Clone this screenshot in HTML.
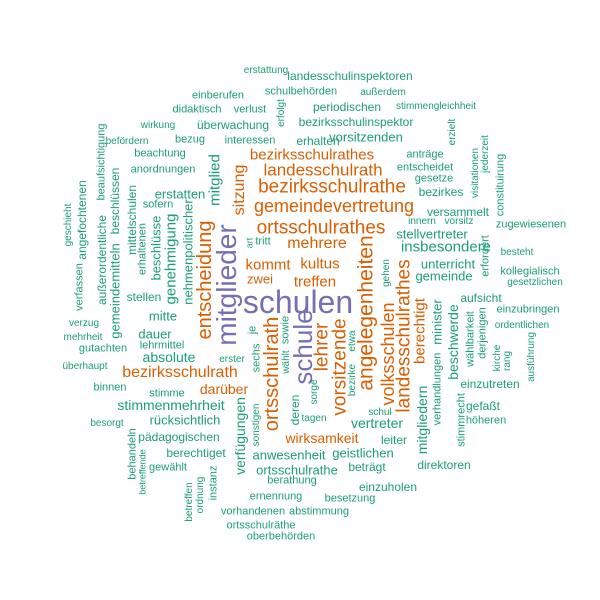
<!DOCTYPE html>
<html><head><meta charset="utf-8">
<style>
html,body{margin:0;padding:0;background:#fff;}
#cloud{position:relative;width:600px;height:600px;overflow:hidden;font-family:"Liberation Sans",sans-serif;}
#cloud span{position:absolute;white-space:nowrap;line-height:1;}
</style></head>
<body>
<div id="cloud"></div>
<script>
const words = ["erstattung","landesschulinspektoren","schulbehörden","außerdem","einberufen","didaktisch","verlust","periodischen","stimmengleichheit","wirkung","überwachung","bezirksschulinspektor","befördern","bezug","interessen","erhalten","vorsitzenden","beachtung","anordnungen","anträge","entscheidet","gesetze","bezirkes","erstatten","sofern","versammelt","innern","vorsitz","zugewiesenen","stellvertreter","insbesondere","besteht","unterricht","gemeinde","kollegialisch","gesetzlichen","aufsicht","einzubringen","ordentlichen","einzutreten","gefaßt","höheren","vertreter","leiter","geistlichen","schul","tagen","direktoren","beträgt","einzuholen","besetzung","abstimmung","ernennung","vorhandenen","ortsschulräthe","oberbehörden","anwesenheit","ortsschulrathe","berathung","berechtiget","pädagogischen","gewählt","rücksichtlich","stimmenmehrheit","stimme","binnen","besorgt","überhaupt","verzug","mehrheit","gutachten","dauer","lehrmittel","absolute","erster","mitte","stellen","bezirksschulrath","darüber","wirksamkeit","bezirksschulrathes","landesschulrath","bezirksschulrathe","gemeindevertretung","ortsschulrathes","mehrere","kommt","kultus","zwei","treffen","schulen","tritt",
"mitglieder","schule","entscheidung","ortsschulrath","lehrer","vorsitzende","angelegenheiten","volksschulen","landesschulrathes","berechtigt","sitzung","mitglied","nehmenpolitischer","genehmigung","beschlüsse","erhaltenen","mittelschulen","beschlüssen","beaufsichtigung","außerordentliche","gemeindemitteln","angefochtenen","verfassen","geschieht","art","je","sechs","sowie","wählt","sonstigen","verfügungen","deren","sorge","bezirke","etwa","gehen","mitgliedern","verhandlungen","minister","beschwerde","stimmrecht","wählbarkeit","derjenigen","kirche","rang","ausführung","erfordert","visitationen","jederzeit","constituirung","erzielt","erfolgt","behandeln","betreffende","betreffen","ordnung","instanz"];
const freq = [10,12,11,10,11,11,11,12,10,10,12,12,10,11,11,12,13,11,11,11,11,11,12,13,11,12,10,10,11,13,15,10,13,13,11,10,12,11,10,12,12,11,14,12,13,10,10,12,12,12,11,11,11,11,11,11,13,13,11,12,12,11,13,14,11,11,10,10,10,10,11,13,11,14,10,13,12,16,14,14,15,17,19,18,19,16,15,15,13,15,32,11,
28,26,20,20,19,19,21,18,19,15,16,15,13,15,13,11,12,12,11,12,13,12,11,10,9,11,11,11,10,10,14,12,10,10,10,10,14,11,13,14,11,11,11,10,10,10,11,10,10,11,10,10,11,9,10,10,11];
const cx = [266,350,301,383,218,197,250,347,436,158,233,356,127,190,250,318,366,160,163,425,425,434,441,180,158,458,422,459,531,432,446,517,448,444,530,535,481,528,522,490,483,486,377,394,363,380,314,444,367,388,350,319,276,253,261,281,289,297,292,196,179,168,185,171,167,110,107,85,84,83,103,155,162,169,232,163,144,180,224,322,312,323,332,334,321,317,268,320,260,315,298,263,
227,303,205,272,322,340,366,388,404,420,240,215,188,171,156,143,132,115,102,102,115,82,80,69,250,253,257,286,287,257,240,295,315,353,353,387,422,438,437,453,462,471,483,498,508,532,486,476,486,501,453,282,133,143,190,201,214];
const cy = [71,76,92,93,96,110,110,107,107,126,125,122,142,140,141,141,137,154,170,155,168,179,192,194,205,212,222,222,225,234,247,253,264,276,272,283,298,310,326,384,406,421,423,440,453,413,419,465,467,487,499,512,497,512,526,537,455,470,481,453,437,468,420,405,394,388,424,367,324,338,349,334,346,357,360,316,297,373,389,438,155,170,187,206,228,244,265,264,279,282,302,242,
285,347,280,374,347,367,313,354,336,331,190,180,252,259,248,249,220,201,162,260,291,220,287,225,243,330,358,330,362,425,436,410,392,380,341,273,420,389,322,342,420,339,333,358,361,357,256,173,154,185,132,113,454,472,502,495,483];
const orangeWords = ["bezirksschulrath","darüber","wirksamkeit","bezirksschulrathes","landesschulrath","bezirksschulrathe","gemeindevertretung","ortsschulrathes","mehrere","kommt","kultus","zwei","treffen","entscheidung","ortsschulrath","lehrer","vorsitzende","angelegenheiten","volksschulen","landesschulrathes","berechtigt","sitzung"];
const purpleWords = ["schulen","mitglieder","schule"];
const rotated = 92;
const cloud = document.getElementById('cloud');
for (let i = 0; i < words.length; i++) {
  const s = document.createElement('span');
  s.textContent = words[i];
  
  
  s.style.fontSize = freq[i] + 'px';
  let col = "#1b9e77";
  if (orangeWords.includes(words[i])) col = "#d95f02";
  if (purpleWords.includes(words[i])) col = "#7570b3";
  s.style.color = col;
  s.style.left = cx[i] + 'px';
  s.style.top = cy[i] + 'px';
  s.style.transform = 'translate(-50%,-50%)' + (i >= rotated ? ' rotate(-90deg)' : '');
  cloud.appendChild(s);
}
</script>
</body></html>
